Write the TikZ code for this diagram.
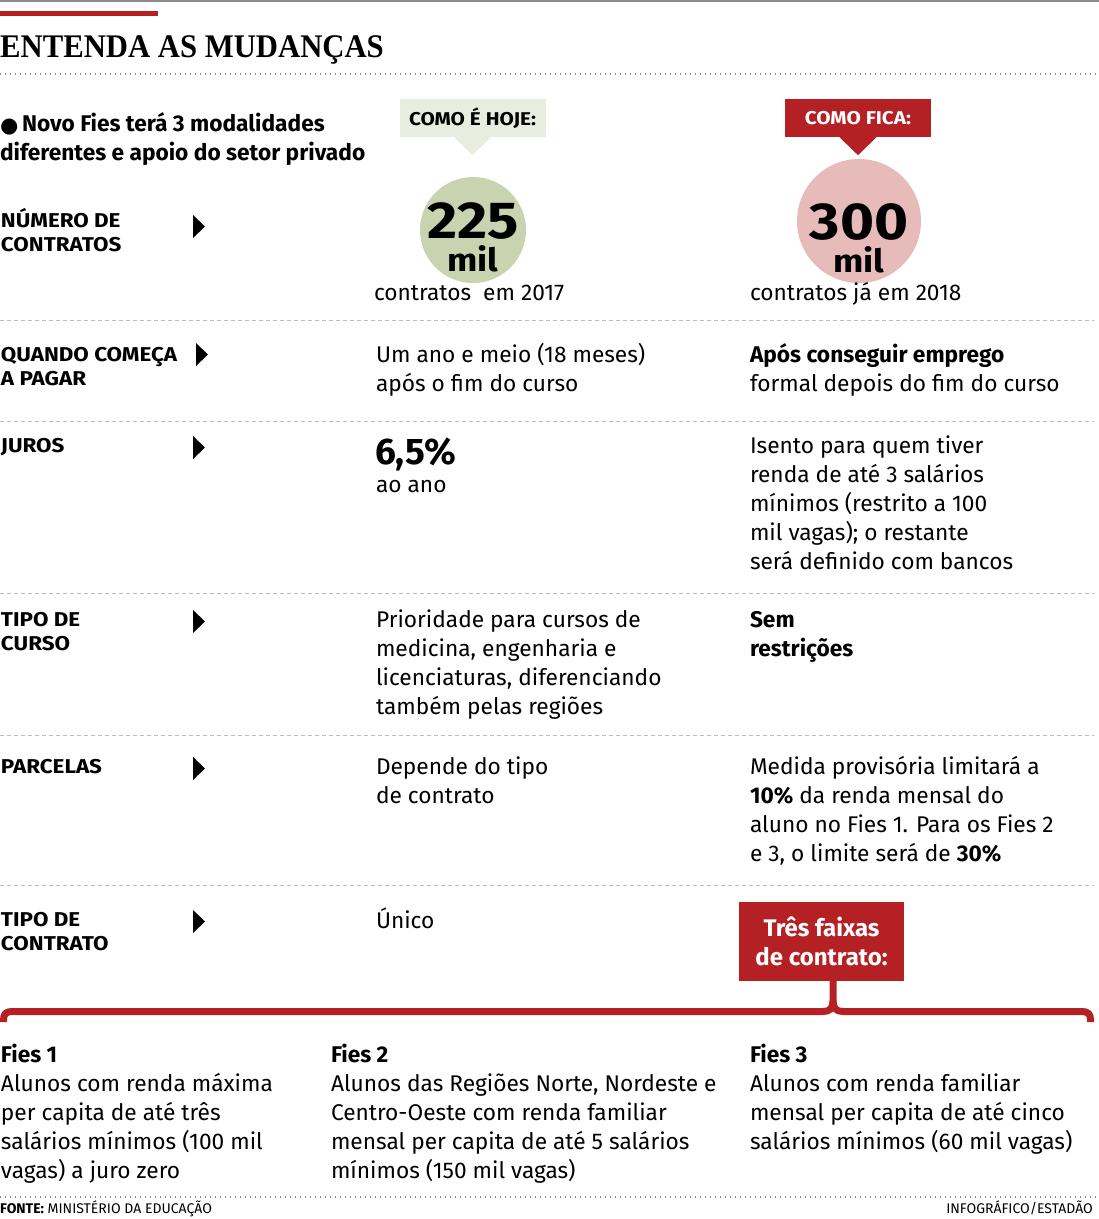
\documentclass[tikz,border=0pt]{standalone}
\usepackage{fontspec}
\usepackage{graphicx}
\setmainfont{Fira Sans}
\newfontfamily\labfont[FakeStretch=1.12]{Fira Sans}
\newfontfamily\titlefont{Liberation Serif}
\newfontfamily\symfont{DejaVu Sans}
\definecolor{ered}{HTML}{B52025}
\definecolor{hojebg}{HTML}{E9EDE0}
\definecolor{hojecirc}{HTML}{C9D3B0}
\definecolor{ficacirc}{HTML}{E8BBBB}
\definecolor{sepgray}{HTML}{BBBBBB}
\definecolor{topgray}{HTML}{8C8C8C}
\begin{document}
\begin{tikzpicture}[x=1pt,y=-1pt,
  txt/.style={anchor=base west, inner sep=0pt, outer sep=0pt, align=left, font=\fontsize{22.7}{29}\selectfont},
  txtb/.style={txt, font=\fontsize{22.7}{29}\selectfont\bfseries},
  lab/.style={anchor=base west, inner sep=0pt, outer sep=0pt, align=left, font=\labfont\fontsize{20}{24}\selectfont\bfseries},
  sepline/.style={draw=sepgray, line width=1pt, dash pattern=on 4pt off 3pt},
  dotline/.style={draw=topgray, line width=1.3pt, dash pattern=on 1.3pt off 3.7pt},
  rowmark/.style={fill=black},
  callout/.style={minimum width=146pt, minimum height=38pt, inner sep=0pt, font=\labfont\fontsize{18.5}{18.5}\selectfont\bfseries},
  numblock/.style={anchor=base, inner sep=0pt, align=center, font=\labfont\fontsize{32}{33}\selectfont\bfseries},
  small/.style={inner sep=0pt, font=\fontsize{14}{14}\selectfont},
]
\useasboundingbox (0,0) rectangle (1099,1219);
% header
\draw[topgray, line width=1.5pt] (0,1) -- (1099,1);
\fill[ered] (0,10.5) rectangle (158,16);
\node[anchor=base west, inner sep=0pt] (title) at (0,57)
  {\titlefont\bfseries\fontsize{33}{33}\selectfont\scalebox{0.93}[1]{ENTENDA AS MUDANÇAS}};
\draw[dotline] (0,74) -- (1099,74);
\node[txtb] (intro) at (0,160) {{\symfont\fontsize{21}{21}\selectfont\raisebox{-1pt}{●}}\,Novo Fies terá 3 modalidades\\diferentes e apoio do setor privado};
% callouts
\node[callout, fill=hojebg, text=black] (hoje) at (472.5,118) {COMO É HOJE:};
\fill[hojebg] ([xshift=-18.5pt]hoje.south) -- ([xshift=18.5pt]hoje.south) -- ([yshift=-18pt]hoje.south) -- cycle;
\node[callout, fill=ered, text=white] (fica) at (858,118) {COMO FICA:};
\fill[ered] ([xshift=-18.5pt]fica.south) -- ([xshift=18.5pt]fica.south) -- ([yshift=-18pt]fica.south) -- cycle;
% row 1
\node[lab] (l1) at (1,251) {NÚMERO DE\\CONTRATOS};
\fill[rowmark] (193,215) -- (205,226.5) -- (193,238) -- cycle;
\node[circle, fill=hojecirc, minimum size=106pt, inner sep=0pt] (c225) at (473,230) {};
\node[numblock] (n225) at (473,271) {{\fontsize{52}{52}\selectfont 225}\\mil};
\node[txt] (t225) at (374,300) {contratos\ \ em 2017};
\node[circle, fill=ficacirc, minimum size=124pt, inner sep=0pt] (c300) at (859,221) {};
\node[numblock] (n300) at (859,272) {{\fontsize{52}{52}\selectfont 300}\\mil};
\node[txt] (t300) at (750,300) {contratos já em 2018};
\draw[sepline] (0,320.5) -- (1094,320.5);
% row 2
\node[lab] (l2) at (1,385) {QUANDO COMEÇA\\A PAGAR};
\fill[rowmark] (196,343) -- (208,354.5) -- (196,366) -- cycle;
\node[txt] (h2) at (376,391) {Um ano e meio (18 meses)\\após o fim do curso};
\node[txt] (f2) at (750,391) {\textbf{Após conseguir emprego}\\formal depois do fim do curso};
\draw[sepline] (0,421) -- (1094,421);
% row 3
\node[lab] (l3) at (1,452) {JUROS};
\fill[rowmark] (193,436) -- (205,447.5) -- (193,459) -- cycle;
\node[anchor=base west, inner sep=0pt, font=\fontsize{37}{37}\selectfont\bfseries] (h3) at (375,464) {6,5\%};
\node[txt] (h3b) at (376,492) {ao ano};
\node[txt] (f3) at (750,569) {Isento para quem tiver\\renda de até 3 salários\\mínimos (restrito a 100\\mil vagas); o restante\\será definido com bancos};
\draw[sepline] (0,593) -- (1094,593);
% row 4
\node[lab] (l4) at (1,650) {TIPO DE\\CURSO};
\fill[rowmark] (193,610) -- (205,621.5) -- (193,633) -- cycle;
\node[txt] (h4) at (376,714) {Prioridade para cursos de\\medicina, engenharia e\\licenciaturas, diferenciando\\também pelas regiões};
\node[txtb] (f4) at (750,656) {Sem\\restrições};
\draw[sepline] (0,735) -- (1094,735);
% row 5
\node[lab] (l5) at (1,773) {PARCELAS};
\fill[rowmark] (193,757) -- (205,768.5) -- (193,780) -- cycle;
\node[txt] (h5) at (376,803) {Depende do tipo\\de contrato};
\node[txt] (f5) at (750,861) {Medida provisória limitará a\\\textbf{10\%} da renda mensal do\\aluno no Fies 1. Para os Fies 2\\e 3, o limite será de \textbf{30\%}};
\draw[sepline] (0,885) -- (1094,885);
% row 6
\node[lab] (l6) at (1,950) {TIPO DE\\CONTRATO};
\fill[rowmark] (193,910) -- (205,921.5) -- (193,933) -- cycle;
\node[txt] (h6) at (376,928) {Único};
\node[fill=ered, text=white, minimum width=165pt, minimum height=79pt, inner sep=0pt, align=center,
  font=\fontsize{24}{29}\selectfont\bfseries] (faixas) at (821.5,941.5) {Três faixas\\de contrato:};
% brace
\coordinate (stemtop) at (833,1001);
\draw[ered, line width=7pt] (faixas.south -| stemtop) -- (stemtop)
  .. controls (833,1008) and (830,1011.5) .. (823,1011.5)
  -- (12,1011.5) .. controls (6,1011.5) and (3.5,1014) .. (3.5,1020) -- (3.5,1022);
\draw[ered, line width=7pt] (stemtop)
  .. controls (833,1008) and (836,1011.5) .. (843,1011.5)
  -- (1082,1011.5) .. controls (1088,1011.5) and (1090.5,1014) .. (1090.5,1020) -- (1090.5,1022);
% bottom
\node[txt] (fies1) at (1,1178) {\textbf{Fies 1}\\Alunos com renda máxima\\per capita de até três\\salários mínimos (100 mil\\vagas) a juro zero};
\node[txt] (fies2) at (331,1178) {\textbf{Fies 2}\\Alunos das Regiões Norte, Nordeste e\\Centro-Oeste com renda familiar\\mensal per capita de até 5 salários\\mínimos (150 mil vagas)};
\node[txt] (fies3) at (750,1149) {\textbf{Fies 3}\\Alunos com renda familiar\\mensal per capita de até cinco\\salários mínimos (60 mil vagas)};
\draw[dotline] (0,1197) -- (1099,1197);
\node[small, anchor=base west] (fonte) at (0,1213) {\textbf{FONTE:} MINISTÉRIO DA EDUCAÇÃO};
\node[small, anchor=base east] (infog) at (1093,1213) {INFOGRÁFICO/ESTADÃO};
\end{tikzpicture}
\end{document}
